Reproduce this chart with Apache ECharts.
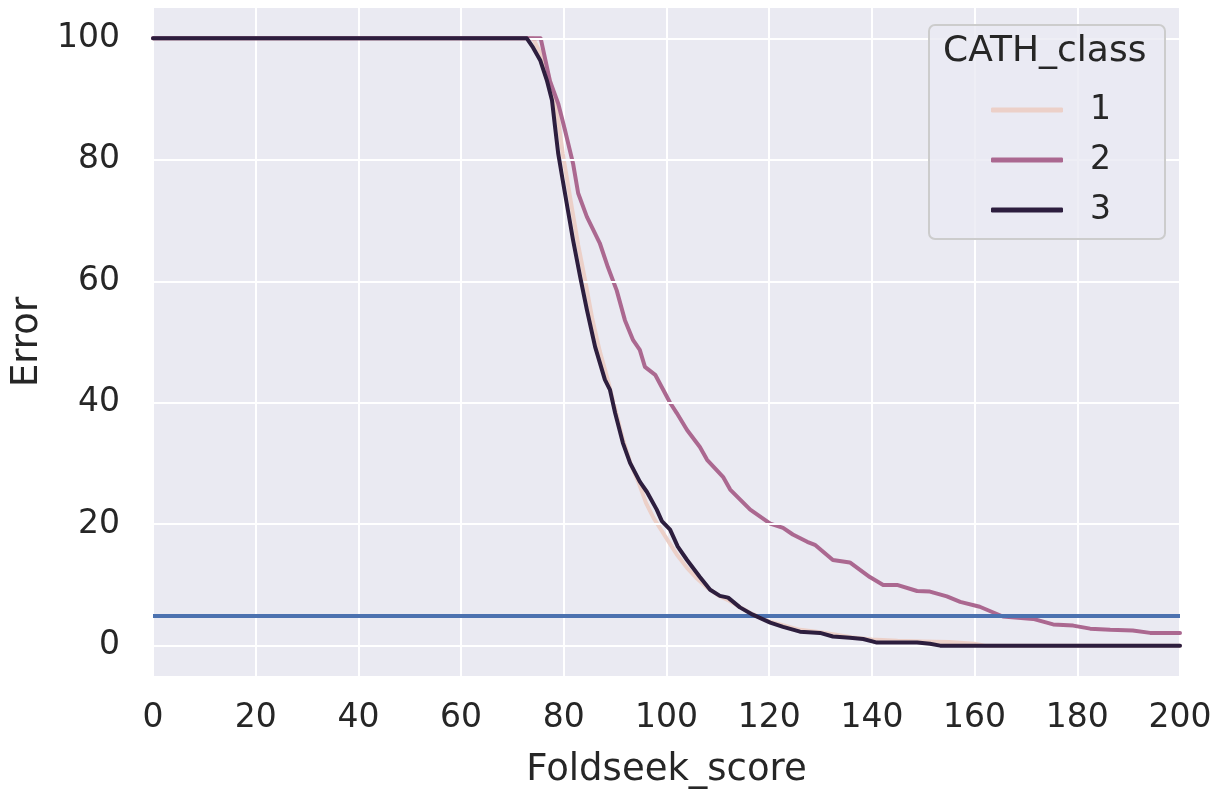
<!DOCTYPE html>
<html>
<head>
<meta charset="utf-8">
<script src="https://cdn.jsdelivr.net/npm/echarts@6/dist/echarts.min.js"></script>
<style>
html,body{margin:0;padding:0;background:#fff;}
#chart{width:1226px;height:792px;}
</style>
</head>
<body>
<div id="chart"></div>
<script>
// ---- data ----
var classNames = ['1', '2', '3'];
var xTicks = [0, 20, 40, 60, 80, 100, 120, 140, 160, 180, 200];
var yTicks = [0, 20, 40, 60, 80, 100];
var thresholdValue = 5;

var score1 = [0, 74, 75.5, 77, 78.2, 79, 79.8, 80.8, 81.8, 82.8, 84.2, 85.5, 87, 88.5, 90, 91.5, 93, 94.5, 96, 97.5, 99, 100.5, 102, 104, 106, 108, 110, 112, 114, 116.5, 120, 123, 126, 130, 133, 136, 140, 145, 150, 155, 160, 162, 200];
var error1 = [100, 100, 97.5, 94, 90, 86, 81, 76, 71, 66, 60, 54, 48.5, 44, 39, 34, 30, 27, 23.5, 21, 19, 17, 15, 12.8, 11, 9.5, 8.3, 7.5, 6.5, 5.3, 4, 3.3, 2.6, 2.2, 1.8, 1.4, 1, 0.8, 0.7, 0.6, 0.3, 0, 0];

var score2 = [0, 75.5, 77.3, 78.9, 80.2, 81.8, 82.8, 84.5, 87, 88.6, 90.3, 91.9, 93.5, 94.8, 95.8, 97.8, 100.7, 102, 104, 106.5, 107.9, 111, 112.4, 116.3, 120.2, 122.7, 124.6, 127.4, 128.9, 132.4, 135.7, 139.6, 142.2, 144.9, 148.8, 151.3, 154.6, 157.2, 161, 165.5, 171.4, 175.3, 179.2, 182.5, 186.4, 190.8, 194.2, 200];
var error2 = [100, 100, 93, 89.3, 85, 79.4, 74.5, 70.6, 66.3, 62.3, 58.5, 53.6, 50.3, 48.7, 45.9, 44.6, 40, 38.3, 35.5, 32.7, 30.6, 27.8, 25.7, 22.4, 20.1, 19.4, 18.3, 17.1, 16.6, 14.1, 13.7, 11.3, 10, 10, 9, 8.9, 8.1, 7.2, 6.4, 4.8, 4.4, 3.5, 3.3, 2.8, 2.6, 2.5, 2.1, 2.1];

var score3 = [0, 72.8, 74, 75.4, 76.7, 77.7, 78.3, 78.9, 79.8, 80.8, 81.8, 83.2, 84.5, 86.1, 88, 89, 90, 91.5, 92.9, 94.8, 96.2, 98.1, 99.1, 100.7, 102.2, 104, 106.5, 108.5, 110.4, 112, 114.3, 116.8, 120.2, 122.7, 126, 129.9, 132.4, 135.7, 138.3, 141, 148.8, 151.3, 153.3, 200];
var error3 = [100, 100, 98.5, 96.4, 93.1, 89.8, 85.4, 81.1, 76.6, 71.7, 66.8, 60.7, 55.3, 49.2, 43.8, 42.1, 38.3, 33.4, 30.1, 27, 25.3, 22.4, 20.5, 19.1, 16.3, 14.1, 11.3, 9.2, 8.2, 7.9, 6.3, 5.1, 3.8, 3.1, 2.3, 2.1, 1.5, 1.3, 1.1, 0.5, 0.5, 0.3, 0, 0];

// ---- chart ----
function pairs(xs, ys) { return xs.map(function (x, i) { return [x, ys[i]]; }); }
var colors = ['#ecd0c8', '#ab6890', '#2d1e3e'];
var font = 'DejaVu Sans';
var txt = '#262626';

var chart = echarts.init(document.getElementById('chart'), null, { renderer: 'canvas' });

var series = [
  {
    name: 'grid', type: 'line', data: [], silent: true, z: 1,
    markLine: {
      silent: true, symbol: 'none', label: { show: false },
      lineStyle: { color: '#ffffff', width: 2, type: 'solid' },
      data: yTicks.map(function (v) { return { yAxis: v }; })
    }
  }
];
var all = [[score1, error1], [score2, error2], [score3, error3]];
for (var i = 0; i < 3; i++) {
  series.push({
    name: classNames[i], type: 'line', showSymbol: false, symbol: 'none',
    data: pairs(all[i][0], all[i][1]),
    lineStyle: { color: colors[i], width: 4, cap: 'round', join: 'round' },
    itemStyle: { color: colors[i] },
    z: 3 + i, animation: false
  });
}
series.push({
  name: 'threshold', type: 'line', data: [], silent: true, z: 10,
  markLine: {
    silent: true, symbol: 'none', label: { show: false },
    lineStyle: { color: '#4c72b0', width: 4, type: 'solid' },
    data: [{ yAxis: thresholdValue }]
  }
});

chart.setOption({
  animation: false,
  textStyle: { fontFamily: font },
  grid: {
    left: 153, right: 46, top: 8, bottom: 116,
    outerBoundsMode: 'none', containLabel: false,
    show: true, backgroundColor: '#eaeaf2', borderWidth: 0
  },
  xAxis: {
    type: 'value', min: 0, max: 200, interval: 20,
    name: 'Foldseek_score', nameLocation: 'middle', nameGap: 76,
    nameTextStyle: { fontSize: 37, color: txt, fontFamily: font },
    axisLine: { show: false }, axisTick: { show: false },
    axisLabel: { fontSize: 33, color: txt, margin: 26, fontFamily: font, customValues: xTicks },
    splitLine: { show: true, lineStyle: { color: '#ffffff', width: 2 } }
  },
  yAxis: {
    type: 'value', min: -5, max: 105,
    name: 'Error', nameLocation: 'middle', nameGap: 106, nameRotate: 90,
    nameTextStyle: { fontSize: 37, color: txt, fontFamily: font },
    axisLine: { show: false }, axisTick: { show: false },
    axisLabel: { fontSize: 33, color: txt, margin: 33, fontFamily: font, customValues: yTicks },
    splitLine: { show: false }
  },
  legend: {
    show: true,
    data: classNames,
    orient: 'vertical',
    left: 986, top: 86,
    itemWidth: 72, itemHeight: 5, icon: 'roundRect',
    itemGap: 12,
    textStyle: { fontSize: 33, color: txt, fontFamily: font, padding: [0, 0, 0, 22], lineHeight: 38 },
    z: 20
  },
  graphic: [
    {
      type: 'rect', z: 15, left: 928, top: 24,
      shape: { width: 236, height: 214, r: 6 },
      style: { fill: 'rgba(234,234,242,0.8)', stroke: '#cccccc', lineWidth: 2 }
    },
    {
      type: 'text', z: 16, left: 943, top: 34,
      style: { text: 'CATH_class', fontSize: 36, fill: txt, fontFamily: font }
    }
  ],
  series: series
});
</script>
</body>
</html>
